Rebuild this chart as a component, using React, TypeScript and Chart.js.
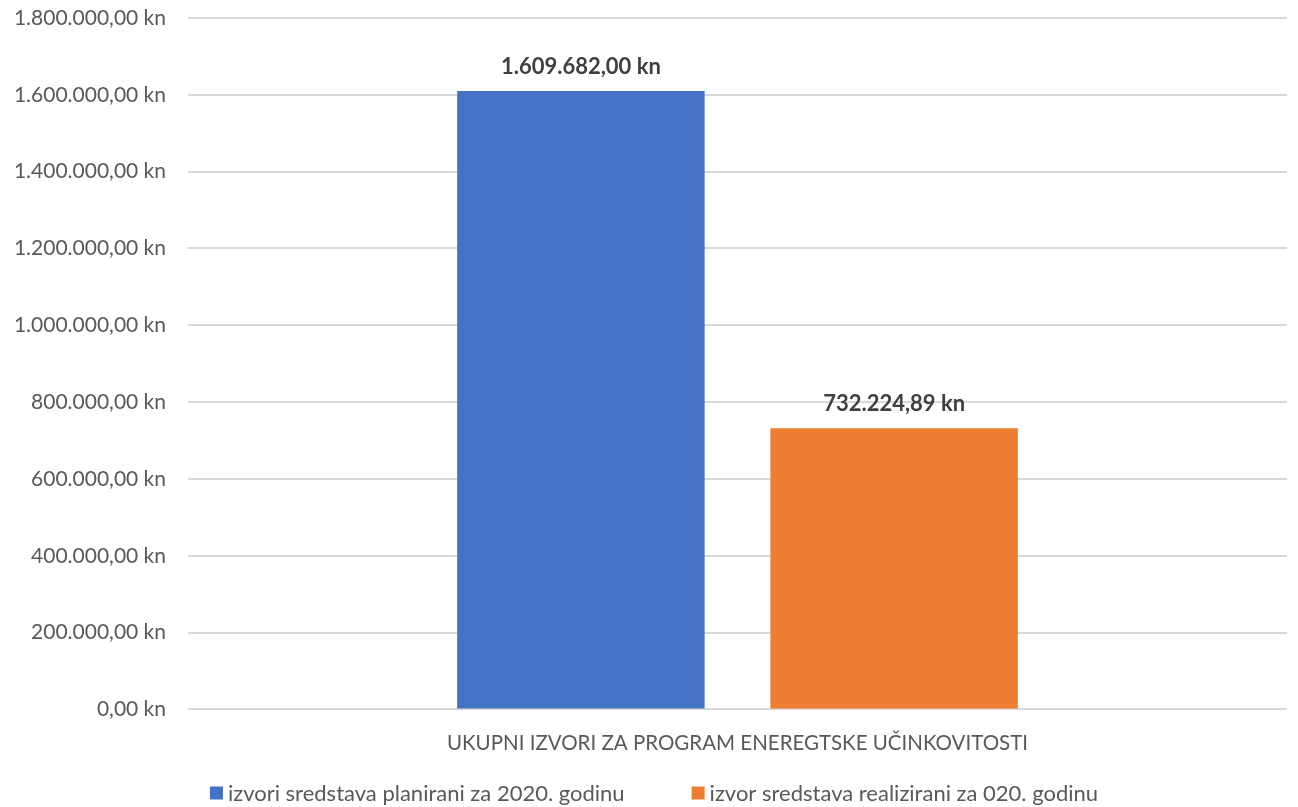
import React, { useEffect, useRef } from "react";
import { Chart, registerables } from "chart.js";

Chart.register(...registerables);

const categories = ["UKUPNI IZVORI ZA PROGRAM ENEREGTSKE UČINKOVITOSTI"];
const seriesNames = [
  "izvori sredstava planirani za 2020. godinu",
  "izvor sredstava realizirani za 020. godinu",
];
const plannedValues = [1609682.0];
const realizedValues = [732224.89];
const seriesColors = ["#4472C4", "#ED7D31"];
const yMin = 0;
const yMax = 1800000;
const yStep = 200000;

const FONT = "Lato, 'Open Sans', sans-serif";
const TEXT = "#595959";

function formatKn(v: number): string {
  const fixed = Math.abs(v).toFixed(2);
  const [intPart, dec] = fixed.split(".");
  const withDots = intPart.replace(/\B(?=(\d{3})+(?!\d))/g, ".");
  return (v < 0 ? "-" : "") + withDots + "," + dec + " kn";
}

const dataLabelPlugin = {
  id: "dataLabels",
  afterDatasetsDraw(chart: any) {
    const ctx = chart.ctx;
    ctx.save();
    ctx.font = `bold 22px ${FONT}`;
    ctx.fillStyle = "#404040";
    ctx.textAlign = "center";
    ctx.textBaseline = "middle";
    chart.data.datasets.forEach((ds: any, di: number) => {
      const meta = chart.getDatasetMeta(di);
      meta.data.forEach((el: any, i: number) => {
        ctx.fillText(formatKn(ds.data[i]), el.x, el.y - 24);
      });
    });
    ctx.restore();
  },
};

const customLegendPlugin = {
  id: "customLegend",
  afterDraw(chart: any) {
    const ctx = chart.ctx;
    const box = 13;
    const textGap = 5;
    const itemGap = 67;
    ctx.save();
    ctx.font = `22px ${FONT}`;
    ctx.textBaseline = "middle";
    ctx.textAlign = "left";
    const items = chart.data.datasets.map((ds: any) => ({
      label: ds.label,
      color: ds.backgroundColor,
      w: box + textGap + ctx.measureText(ds.label).width,
    }));
    const total =
      items.reduce((s: number, it: any) => s + it.w, 0) + itemGap * (items.length - 1);
    let x = chart.width / 2 + 5 - total / 2;
    const y = chart.height - 14;
    items.forEach((it: any) => {
      ctx.fillStyle = it.color;
      ctx.fillRect(x, y - box / 2, box, box);
      ctx.fillStyle = TEXT;
      ctx.fillText(it.label, x + box + textGap, y + 1);
      x += it.w + itemGap;
    });
    ctx.restore();
  },
};

export default function App() {
  const canvasRef = useRef<HTMLCanvasElement | null>(null);

  useEffect(() => {
    document.body.style.margin = "0";
    const canvas = canvasRef.current;
    if (!canvas) return;
    const chart = new Chart(canvas, {
      type: "bar",
      data: {
        labels: categories,
        datasets: [
          {
            label: seriesNames[0],
            data: plannedValues,
            backgroundColor: seriesColors[0],
            categoryPercentage: 0.57,
            barPercentage: 0.79,
          },
          {
            label: seriesNames[1],
            data: realizedValues,
            backgroundColor: seriesColors[1],
            categoryPercentage: 0.57,
            barPercentage: 0.79,
          },
        ],
      },
      options: {
        responsive: false,
        animation: false,
        maintainAspectRatio: false,
        layout: { padding: { top: 18, right: 11, left: 0, bottom: 29 } },
        plugins: {
          tooltip: { enabled: false },
          legend: { display: false },
        },
        scales: {
          x: {
            grid: { display: false, drawTicks: false },
            border: { display: false },
            ticks: {
              color: TEXT,
              font: { family: FONT, size: 20.5 },
              padding: 22,
            },
          },
          y: {
            min: yMin,
            max: yMax,
            grid: { color: "#D9D9D9", lineWidth: 2, drawTicks: false },
            border: { display: false },
            ticks: {
              stepSize: yStep,
              color: TEXT,
              font: { family: FONT, size: 21 },
              padding: 22,
              callback: (v: any) => formatKn(Number(v)),
            },
            afterFit: (scale: any) => {
              scale.width = 188;
              scale.paddingTop = 0;
              scale.paddingBottom = 0;
            },
          },
        },
      },
      plugins: [dataLabelPlugin, customLegendPlugin],
    });
    return () => chart.destroy();
  }, []);

  return (
    <div style={{ width: 1298, height: 807 }}>
      <canvas ref={canvasRef} width={1298} height={807} style={{ display: "block" }} />
    </div>
  );
}
